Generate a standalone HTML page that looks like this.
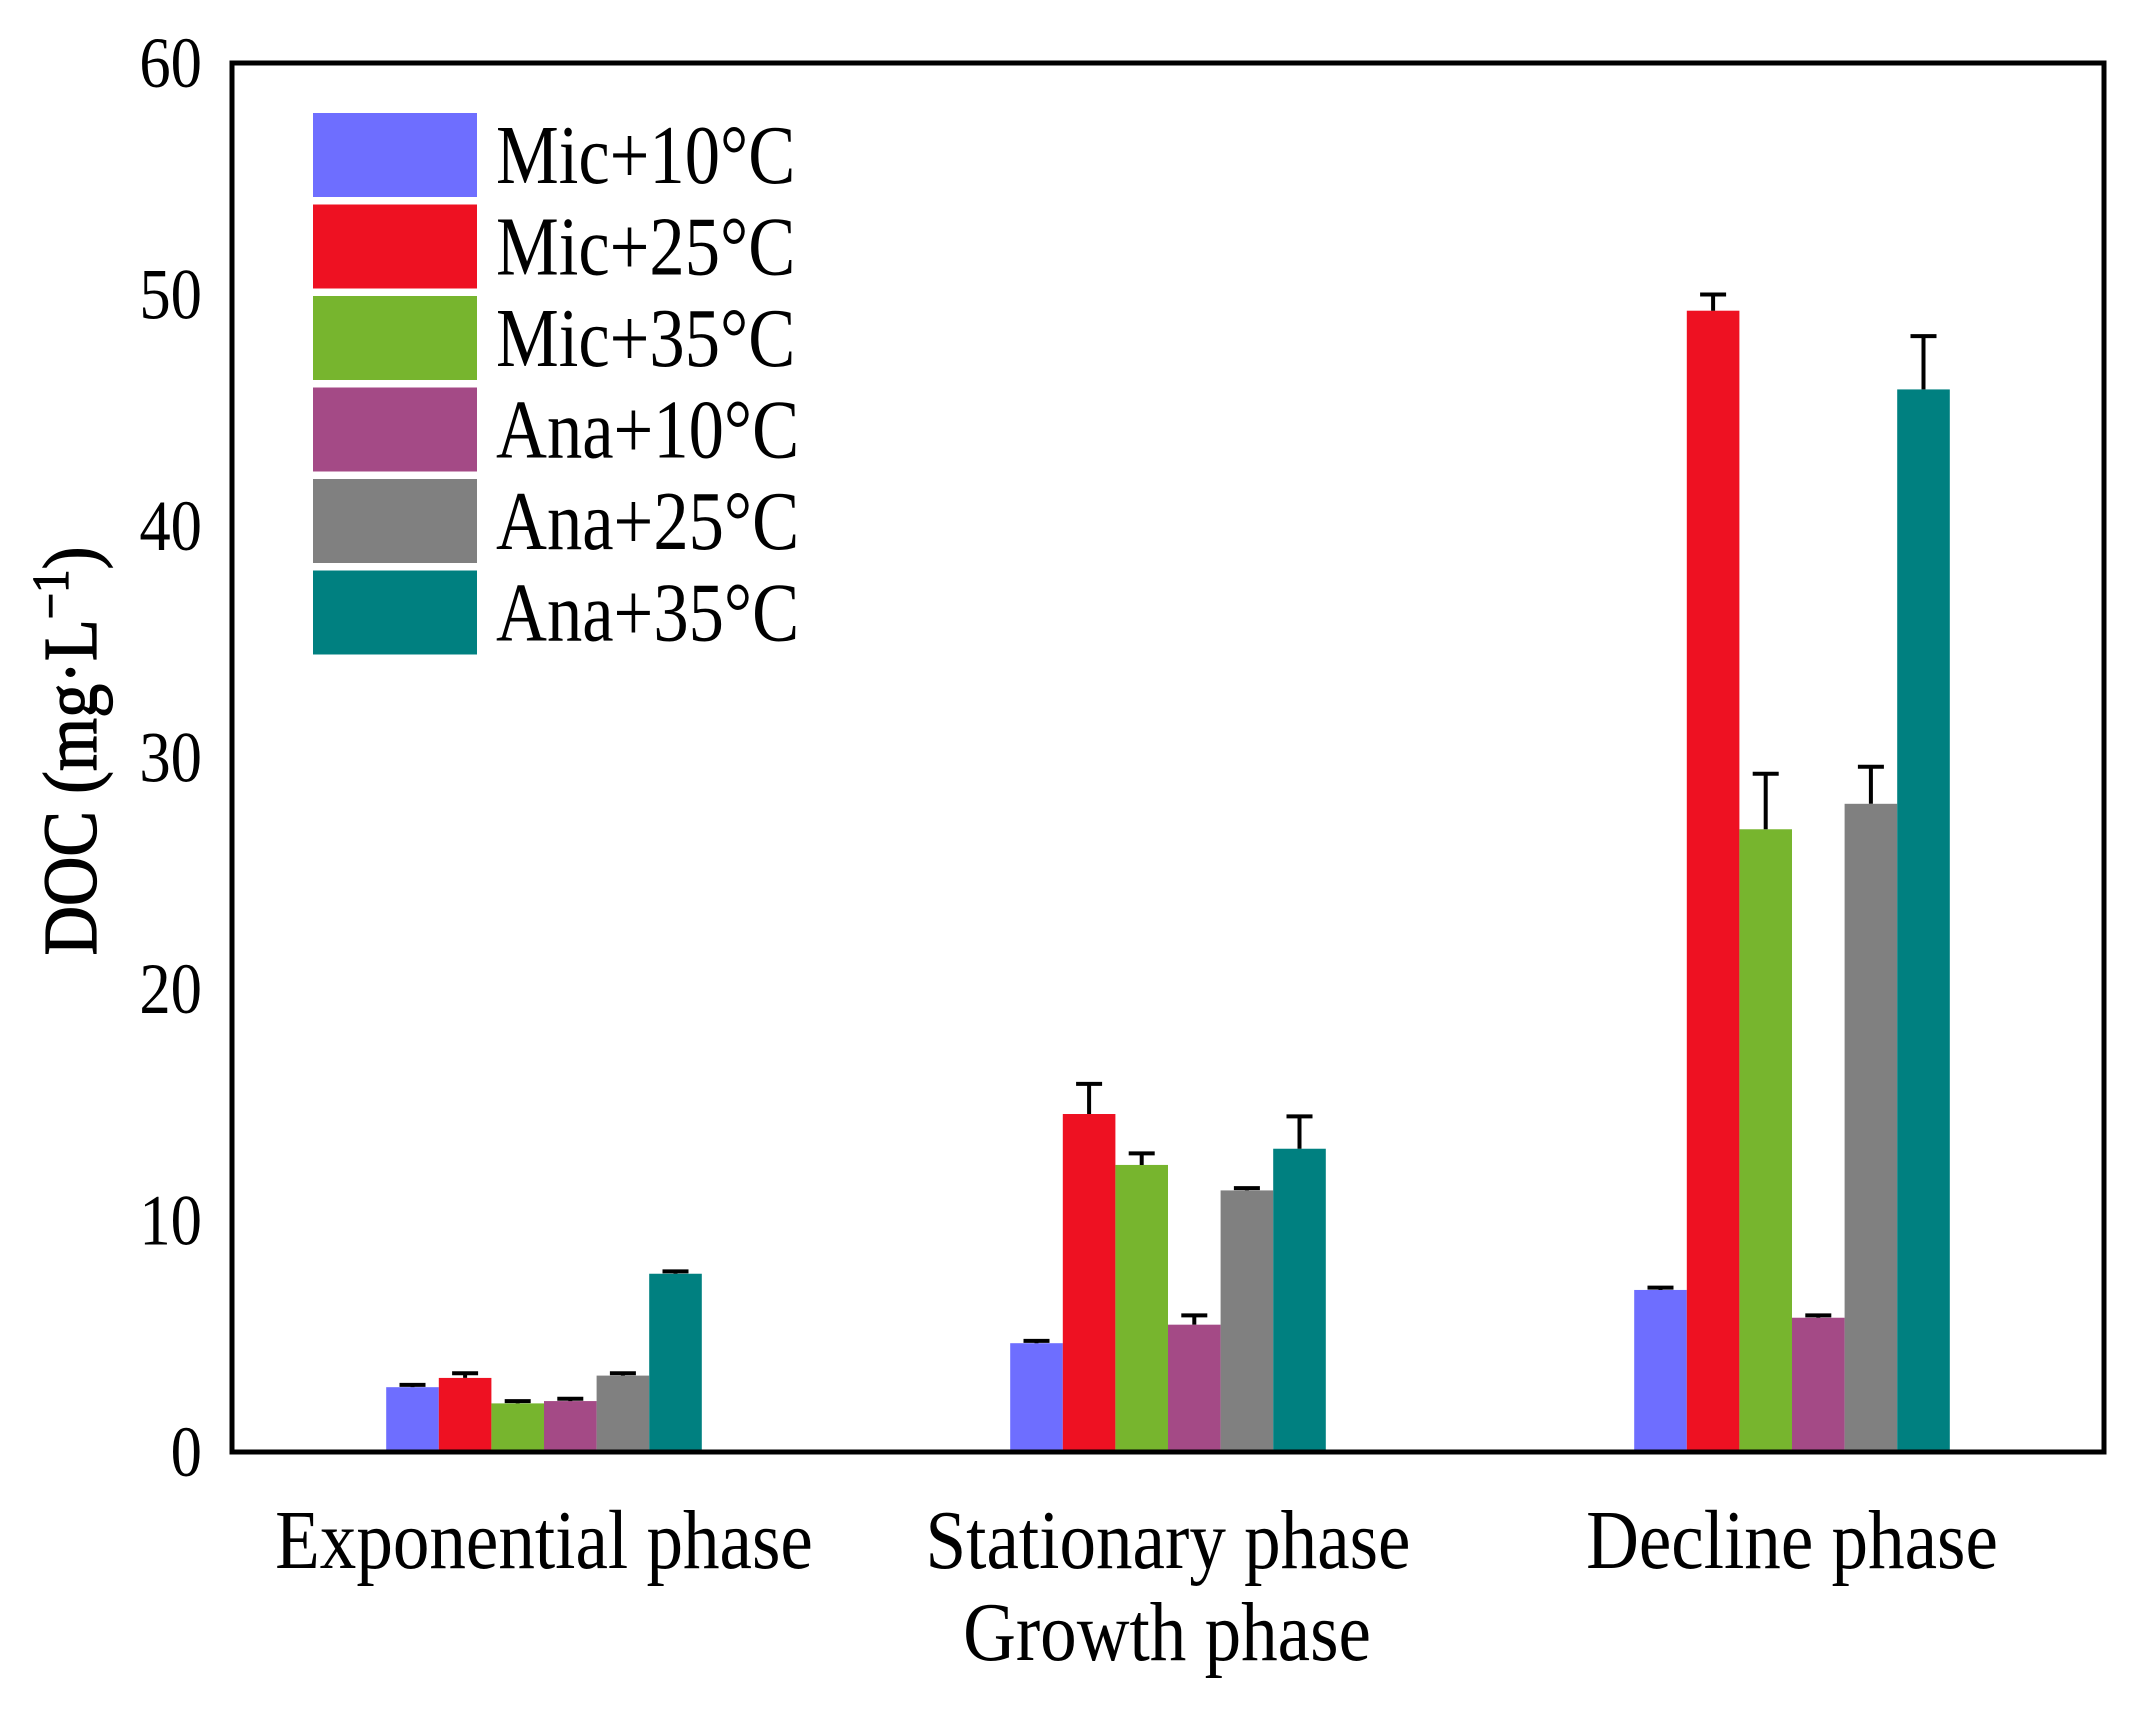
<!DOCTYPE html>
<html><head><meta charset="utf-8"><style>
html,body{margin:0;padding:0;background:#fff;}
svg{display:block;font-family:"Liberation Serif",serif;}
</style></head><body>
<svg id="chart" width="2142" height="1713" viewBox="0 0 2142 1713">
<rect x="0" y="0" width="2142" height="1713" fill="#fff"/>
<g id="bars"></g>
<g id="yticks"></g>
<g id="xlabels"></g>
<rect x="232" y="63" width="1872" height="1389" fill="none" stroke="#000" stroke-width="5"/>
<text transform="translate(1167,1660) scale(0.87,1)" font-size="84" text-anchor="middle">Growth phase</text>
<text transform="translate(96,751) rotate(-90) scale(0.9,1)" font-size="76" text-anchor="middle" stroke="#000" stroke-width="1.2">DOC (mg·L<tspan dy="-28" font-size="52">−1</tspan><tspan dy="28">)</tspan></text>
<g id="legend"></g>
</svg>
<script>
const categories = ["Exponential phase","Stationary phase","Decline phase"];
const seriesNames = ["Mic+10°C","Mic+25°C","Mic+35°C","Ana+10°C","Ana+25°C","Ana+35°C"];
const colors = ["#6e6eff","#ee1122","#77b52e","#a44a86","#808080","#008080"];
const mic10 = [2.8, 4.7, 7.0];
const mic25 = [3.2, 14.6, 49.3];
const mic35 = [2.1, 12.4, 26.9];
const ana10 = [2.2, 5.5, 5.8];
const ana25 = [3.3, 11.3, 28.0];
const ana35 = [7.7, 13.1, 45.9];
const mic10Err = [0.1, 0.1, 0.1];
const mic25Err = [0.2, 1.3, 0.7];
const mic35Err = [0.1, 0.5, 2.4];
const ana10Err = [0.1, 0.4, 0.1];
const ana25Err = [0.1, 0.1, 1.6];
const ana35Err = [0.1, 1.4, 2.3];
const yTicks = [0,10,20,30,40,50,60];

const NS="http://www.w3.org/2000/svg";
const L=232,R=2104,T=63,B=1452,yMax=60;
const y=v=>B-(v/yMax)*(B-T);
const band=(R-L)/categories.length;
const barW=52.6;
const xBar=(ci,si)=>L+band*ci+band/2-barW*3+si*barW;
const series=[mic10,mic25,mic35,ana10,ana25,ana35];
const errs=[mic10Err,mic25Err,mic35Err,ana10Err,ana25Err,ana35Err];
function mk(tag,attrs,parent){const e=document.createElementNS(NS,tag);for(const k in attrs)e.setAttribute(k,attrs[k]);parent.appendChild(e);return e;}
const gb=document.getElementById('bars');
series.forEach((s,si)=>{s.forEach((v,ci)=>{
 const x=xBar(ci,si);
 const r=mk('rect',{x:x,y:y(v),width:barW,height:B-y(v),fill:colors[si]},gb);
 
 
 const cx=x+barW/2,top=y(v+errs[si][ci]);
 const e=mk('path',{d:`M${cx},${y(v)}V${top}M${cx-13},${top}H${cx+13}`,stroke:'#000','stroke-width':4,fill:'none'},gb);
 
 
});});
const gy=document.getElementById('yticks');
yTicks.forEach(t=>{
 const tx=mk('text',{transform:`translate(202,${y(t)+24}) scale(0.87,1)`,'font-size':72,'text-anchor':'end'},gy);tx.textContent=t;
 
 
});
const gx=document.getElementById('xlabels');
categories.forEach((c,ci)=>{
 const tx=mk('text',{transform:`translate(${L+band*ci+band/2},1568) scale(0.87,1)`,'font-size':84,'text-anchor':'middle'},gx);tx.textContent=c;
 
 
});
const gl=document.getElementById('legend');
seriesNames.forEach((n,i)=>{
 const top=113+i*91.5;
 const r=mk('rect',{x:313,y:top,width:164,height:84,fill:colors[i]},gl);
 
 
 const tx=mk('text',{transform:`translate(496,${top+70}) scale(0.84,1)`,'font-size':84},gl);tx.textContent=n;
 
 
});
</script>
</body></html>
